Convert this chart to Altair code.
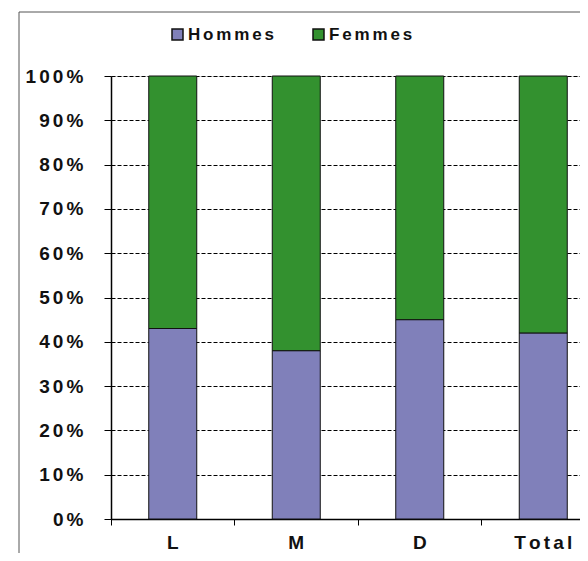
import altair as alt
import pandas as pd

categories = ["L", "M", "D", "Total"]
hommes = [43, 38, 45, 42]
femmes = [57, 62, 55, 58]
series = ["Hommes", "Femmes"]
colors = ["#8080BA", "#33912F"]

rows = []
for i, c in enumerate(categories):
    rows.append({"cat": c, "sexe": "Hommes", "val": hommes[i], "ord": 0})
    rows.append({"cat": c, "sexe": "Femmes", "val": femmes[i], "ord": 1})
df = pd.DataFrame(rows)

FONT = "Liberation Sans, Arial"
SPACED = "join(split(datum.label, ''), '\u2006')"

bars = alt.Chart(df).mark_bar(size=48, stroke="#111111", strokeWidth=1).encode(
    x=alt.X("cat:N", sort=categories, title=None,
            scale=alt.Scale(range=[0, 494], paddingInner=0, paddingOuter=0),
            axis=alt.Axis(labelAngle=0, bandPosition=0, tickSize=6, labelPadding=8,
                          domainColor="black", tickColor="black", domainWidth=1.5,
                          labelFont=FONT, labelFontSize=19, labelFontWeight="bold",
                          labelColor="#111111", labelExpr=SPACED, grid=False)),
    y=alt.Y("val:Q", stack="normalize", title=None,
            scale=alt.Scale(domain=[0, 1]),
            axis=alt.Axis(values=[i / 10 for i in range(11)], format=".0%",
                          tickSize=7, labelPadding=21, domainColor="black",
                          tickColor="black", domainWidth=1.5,
                          labelFont=FONT, labelFontSize=19, labelFontWeight="bold",
                          labelColor="#111111", labelExpr=SPACED,
                          grid=True, gridColor="black", gridDash=[4, 2], gridWidth=1)),
    color=alt.Color("sexe:N", sort=series,
                    scale=alt.Scale(domain=series, range=colors),
                    legend=alt.Legend(title=None, orient="none", legendX=58, legendY=-50,
                                      direction="horizontal", columns=2, padding=0,
                                      symbolType="square", symbolSize=121,
                                      symbolStrokeColor="#111111", symbolStrokeWidth=1.5,
                                      symbolOpacity=1, labelOffset=2, columnPadding=36,
                                      labelFont=FONT, labelFontSize=17, labelFontWeight="bold",
                                      labelColor="#111111", labelExpr=SPACED)),
    order=alt.Order("ord:Q"),
)

frame_df = pd.DataFrame({"k": [0]})
frame_top = alt.Chart(frame_df).mark_rule(stroke="#555555", strokeWidth=1).encode(
    x=alt.value(-92), x2=alt.value(700), y=alt.value(-64)
)
frame_left = alt.Chart(frame_df).mark_rule(stroke="#555555", strokeWidth=1).encode(
    x=alt.value(-92), y=alt.value(-64), y2=alt.value(700)
)

chart = alt.layer(frame_top, frame_left, bars).properties(
    width=469, height=443,
    autosize=alt.AutoSizeParams(type="none"),
    padding={"left": 103, "top": 68, "right": 0, "bottom": 34},
).configure_view(stroke=None).configure(background="white")

chart.save("out.html", embed_options={"renderer": "svg", "actions": False})
